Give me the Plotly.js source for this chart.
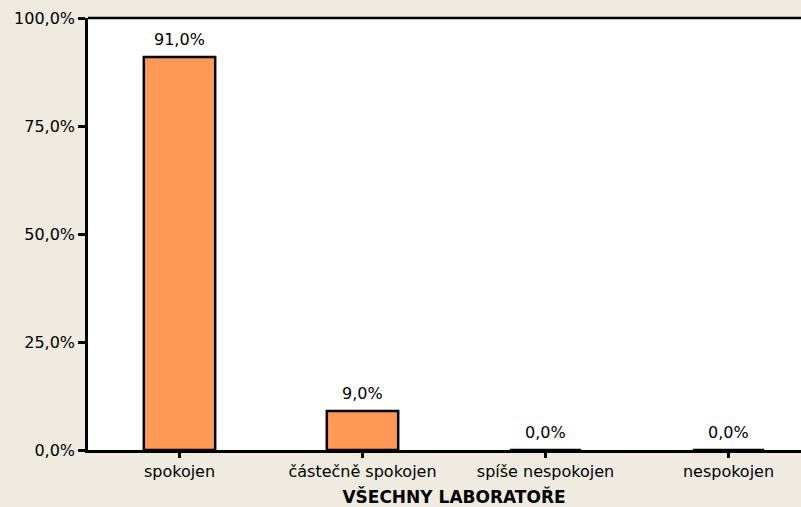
<!DOCTYPE html>
<html><head><meta charset="utf-8">
<script src="https://cdn.plot.ly/plotly-3.0.1.min.js"></script>
<style>html,body{margin:0;padding:0;overflow:hidden;background:#efebe1;}</style>
</head><body><div id="chart"></div>
<script>
const categories = ["spokojen", "částečně spokojen", "spíše nespokojen", "nespokojen"];
const values = [91.0, 9.0, 0.0, 0.0];
const yTickValues = [0, 25, 50, 75, 100];
const yTickLabels = ["0,0%", "25,0%", "50,0%", "75,0%", "100,0%"];
const valueLabels = ["91,0%", "9,0%", "0,0%", "0,0%"];
const xTitle = "VŠECHNY LABORATOŘE";

const font = "'DejaVu Sans', sans-serif";
const fs = 16;
Plotly.newPlot("chart", [{
  type: "bar",
  x: categories,
  y: values,
  width: 0.39,
  marker: {color: "#ff9955", line: {color: "#000", width: 2.5}},
  hoverinfo: "skip"
}], {
  width: 825, height: 507,
  margin: {l: 88, r: 5, t: 18, b: 57},
  paper_bgcolor: "#efebe1",
  plot_bgcolor: "#ffffff",
  font: {family: font, size: fs, color: "#000"},
  showlegend: false,
  xaxis: {
    type: "category", range: [-0.5, 3.5],
    showline: true, linecolor: "#000", linewidth: 2.5,
    ticks: "outside", ticklen: 5, tickwidth: 2.5, tickcolor: "#000",
    tickfont: {family: font, size: fs},
    title: {text: "<b>" + xTitle + "</b>", font: {family: font, size: 17}, standoff: 13},
    showgrid: false, zeroline: false
  },
  yaxis: {
    range: [0, 100], tickvals: yTickValues, ticktext: yTickLabels,
    showline: true, linecolor: "#000", linewidth: 2.5,
    ticks: "outside", ticklen: 7, tickwidth: 2.5, tickcolor: "#000",
    tickfont: {family: font, size: fs},
    showgrid: false, zeroline: false
  },
  annotations: categories.map((c, i) => ({
    x: c, y: values[i], xref: "x", yref: "y", text: valueLabels[i],
    showarrow: false, yanchor: "bottom", yshift: 6,
    font: {family: font, size: fs, color: "#000"}
  })),
  shapes: [{type: "line", xref: "paper", yref: "paper", x0: 0, x1: 1, y0: 1, y1: 1,
            line: {color: "#000", width: 2.5}}]
}, {displayModeBar: false});
</script></body></html>
